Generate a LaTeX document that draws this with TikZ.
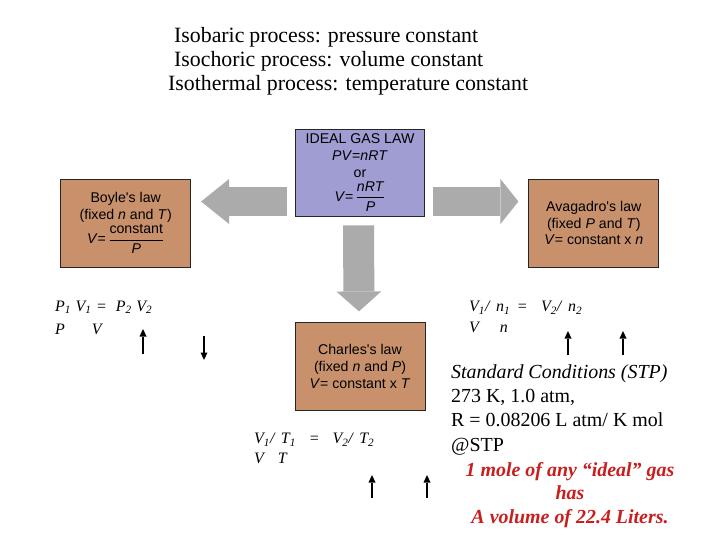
\documentclass[tikz,border=0pt]{standalone}
\usepackage{amsmath}
\usepackage{fontspec}
\setmainfont{Liberation Serif}
\newfontfamily\lawfont{Liberation Sans}
\usetikzlibrary{positioning,arrows.meta}
\definecolor{lawbrown}{HTML}{C8916C}
\definecolor{gaspurple}{HTML}{A09DD2}
\definecolor{arrowgray}{HTML}{ABABAB}
\definecolor{stpred}{HTML}{C81E1E}
\newcommand{\isub}[1]{\textsubscript{#1}}
\newcommand{\apos}{\textquotesingle}
\newcommand{\lawfrac}[2]{$\genfrac{}{}{0.6pt}{0}{\text{#1}}{\text{#2}}$}
\tikzset{
    lawbox/.style={draw=black!85,line width=0.8bp,fill=lawbrown,minimum width=130bp,minimum height=88bp,
        align=center,inner sep=2bp,font=\lawfont\fontsize{14.2}{17}\selectfont},
    gasbox/.style={lawbox,fill=gaspurple,minimum width=129bp,minimum height=87bp},
    bigarrow/.style={draw=arrowgray,line width=29bp,-{Triangle[width=45bp,length=#1,line width=0pt]}},
    smallarrow/.style={line width=1.8bp,-{Triangle[width=7bp,length=7.5bp,line width=0pt]}},
    eqn/.style={anchor=north west,inner sep=0pt,align=left,font=\itshape\fontsize{16}{#1}\selectfont},
    titletext/.style={anchor=north west,inner sep=0pt,align=left,font=\fontsize{21.9}{24}\selectfont},
    stptext/.style={anchor=north west,inner sep=0pt,align=left,font=\fontsize{20}{24.5}\selectfont},
    notetext/.style={anchor=north,inner sep=0pt,align=center,text=stpred,font=\bfseries\itshape\fontsize{20}{23.5}\selectfont},
}
\begin{document}
\begin{tikzpicture}[x=1bp,y=-1bp]
    \useasboundingbox (0,0) rectangle (720,540);

    \node[titletext] (iso) at (168,27) {\hspace*{6bp}\makebox[304bp][s]{Isobaric process: pressure constant}\\
        \hspace*{6bp}Isochoric process: volume constant\\Isothermal process: temperature constant};

    % the four laws
    \node[gasbox] (ideal) at (360,172.5) {IDEAL GAS LAW\\\textit{PV}=\textit{nRT}\\or\\[3bp]
        \textit{V}=\,\lawfrac{\textit{nRT}}{\textit{P}}};
    \node[lawbox,left=104bp of ideal,yshift=-50.5bp] (boyle) {Boyle\apos s law\\(fixed \textit{n} and \textit{T})\\[1bp]
        \textit{V}=\,\lawfrac{constant}{\textit{P}}};
    \node[lawbox,right=103.5bp of ideal,yshift=-50.5bp] (avagadro) {Avagadro\apos s law\\(fixed \textit{P} and \textit{T})\\
        \textit{V}= constant x \textit{n}};
    \node[lawbox,below=106bp of ideal] (charles) {Charles\apos s law\\(fixed \textit{n} and \textit{P})\\
        \textit{V}= constant x \textit{T}};

    \draw[bigarrow=28bp] ([xshift=-8bp,yshift=-29bp]ideal.west) -- ([xshift=10bp,yshift=21.5bp]boyle.east);
    \draw[bigarrow=18bp] ([xshift=8.5bp,yshift=-29bp]ideal.east) -- ([xshift=-10bp,yshift=21.5bp]avagadro.west);
    \draw[bigarrow=20bp,line width=31bp] ([xshift=-1.5bp,yshift=-9bp]ideal.south) -- ([xshift=-1bp,yshift=11bp]charles.north);

    % relations
    \node[eqn=23bp] (boyleeq) at (55,300.4) {\makebox[97bp][s]{P\isub{1} V\isub{1} =~ P\isub{2} V\isub{2}}\\P\hspace{27bp}V};
    \node[eqn=21bp] (avagadroeq) at (469,301) {\makebox[113bp][s]{V\isub{1}/ n\isub{1} =~ V\isub{2}/ n\isub{2}}\\V\hspace{21bp}n};
    \node[eqn=20bp] (charleseq) at (254,433) {\makebox[120bp][s]{V\isub{1}/ T\isub{1} ~=~ V\isub{2}/ T\isub{2}}\\V\hspace{14bp}T};

    \foreach \x/\ybot/\ytop [count=\i] in {143/354/329,568/355/331,623/355/331,372/498/475,427/498/475}{
        \coordinate (up\i a) at (\x,\ybot);
        \coordinate (up\i b) at (\x,\ytop);
        \draw[smallarrow] (up\i a) -- (up\i b);
    }
    \coordinate (dntop) at (204,336);
    \coordinate (dnbot) at (204,360);
    \draw[smallarrow] (dntop) -- (dnbot);

    % standard conditions
    \node[stptext] (stp) at (451,364) {\textit{Standard Conditions (STP)}\\273 K, 1.0 atm,\\
        R = 0.08206 L atm/ K mol\\@STP};
    \node[notetext] (molar) at (570,462.3) {1 mole of any “ideal” gas\\has\\A volume of 22.4 Liters.};
\end{tikzpicture}
\end{document}
